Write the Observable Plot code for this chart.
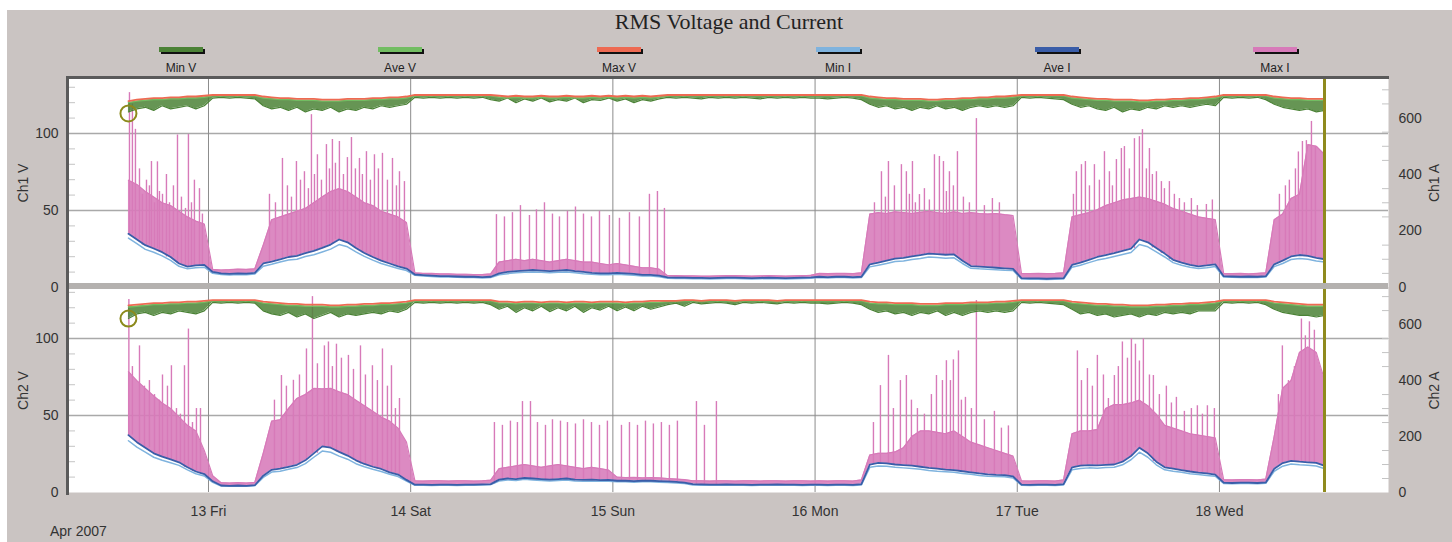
<!DOCTYPE html>
<html><head><meta charset="utf-8">
<script src="https://cdn.jsdelivr.net/npm/d3@7"></script>
<script src="https://cdn.jsdelivr.net/npm/@observablehq/plot@0.6"></script>
<style>
html,body{margin:0;padding:0;background:#fff;width:1452px;height:542px;overflow:hidden;}
#page{position:relative;width:1452px;height:542px;}
#frame{position:absolute;left:7px;top:10px;width:1445px;height:532px;background:#cac4c2;}
#title{position:absolute;left:0;width:1458px;top:9px;text-align:center;font-family:"Liberation Serif","DejaVu Serif",serif;font-size:22px;color:#222;}
.sw{position:absolute;top:47px;width:44px;height:5px;box-shadow:2px 2px 0 #111;}
.lg{position:absolute;top:61px;width:80px;text-align:center;font-family:"Liberation Sans",Arial,sans-serif;font-size:12px;color:#222;}
.panel{position:absolute;left:0;width:1452px;}
.panel svg{position:absolute;left:0;top:0;}
.bar{position:absolute;}
#apr{position:absolute;left:50px;top:523px;font-family:"Liberation Sans",Arial,sans-serif;font-size:14px;color:#333;}
</style></head>
<body><div id="page"><div id="frame"></div><div id="title">RMS Voltage and Current</div></div>
<script>
// ---------- data ----------
const startTime = "2007-04-12T14:30";   // first hourly sample
const cursorTime = "2007-04-18T12:28";  // olive end cursor
const domainX = ["2007-04-12T07:23", "2007-04-18T20:04"];
const dayTicks = ["2007-04-13T00:00","2007-04-14T00:00","2007-04-15T00:00","2007-04-16T00:00","2007-04-17T00:00","2007-04-18T00:00"];
const dayLabels = ["13 Fri","14 Sat","15 Sun","16 Mon","17 Tue","18 Wed"];
const vTicks = [0, 50, 100];
const vGrid = [50, 100];
const vMinor = [10,20,30,40,60,70,80,90,110,120,130];
const aTicks = [0, 200, 400, 600];
const aMinor = [50,100,150,250,300,350,450,500,550,650,700];
const legendNames = ["Min V","Ave V","Max V","Min I","Ave I","Max I"];
const legendColors = ["#4b8236","#72bd62","#ee6a52","#7fb3de","#3a5da8","#d77ab9"];
const markerV = 113;

// Ch1 hourly values
const ch1AveI = [190,170,150,138,125,108,85,74,78,80,
 55,50,48,50,49,52,
 85,92,100,108,112,122,130,140,152,170,160,140,122,108,95,85,75,67,
 46,44,42,40,40,39,38,38,37,38,
 50,55,58,60,62,60,58,60,62,58,55,52,50,50,52,50,48,45,45,42,
 36,35,35,34,34,33,34,35,35,34,33,34,35,34,33,34,35,36,
 38,37,38,38,37,38,
 82,88,95,102,105,110,115,120,118,116,117,95,76,74,72,70,68,66,
 33,32,32,31,32,33,
 80,88,98,108,115,122,130,138,170,160,140,120,98,88,80,75,78,82,
 40,39,38,39,38,40,
 82,95,110,115,112,105,100];
const ch1MinI = [175,155,135,125,112,96,75,66,70,72,
 50,46,44,46,45,48,
 75,82,90,97,100,110,116,126,136,152,144,126,110,97,85,76,67,60,
 43,41,39,37,37,36,35,35,34,35,
 45,49,52,54,55,54,52,54,55,52,49,47,45,45,47,45,43,41,41,38,
 33,32,32,31,31,30,31,32,32,31,30,31,32,31,30,31,32,33,
 35,34,35,35,34,35,
 73,79,85,92,94,99,103,108,106,104,105,85,68,66,65,63,61,60,
 30,29,29,28,29,30,
 72,79,88,97,103,110,117,124,152,144,126,108,88,79,72,67,70,74,
 37,36,35,36,35,37,
 74,85,99,103,100,94,90];
const ch1MaxI = [380,365,340,320,300,290,270,250,235,225,
 64,62,63,65,64,66,
 150,240,250,260,270,280,300,320,340,350,340,320,300,290,270,260,250,230,
 52,50,50,48,48,47,47,46,46,48,
 90,95,100,95,100,95,90,95,100,95,90,90,85,80,85,80,75,70,70,65,
 42,42,41,41,40,40,41,42,42,41,40,41,42,41,40,41,42,43,
 50,49,50,50,49,52,
 260,265,262,268,265,262,266,270,265,262,268,262,265,262,260,262,258,255,
 50,49,50,49,50,52,
 250,258,265,275,290,300,310,315,320,315,305,295,280,270,260,250,245,240,
 50,49,50,48,50,52,
 240,260,315,330,506,500,470];
const ch1MaxV = [121,122,122.5,123,123,123.5,123.5,124,124,124.5,
 125,125,125,125,125,125,
 124,123.5,123,123,122.5,122.5,122.5,122,122,122,122.5,122.5,122.5,123,123,123.5,123.5,124,
 125,125,125,125,125,125,125,125,125,125,
 124.5,124,124.5,124,124,124.5,124,124,124.5,124,124,124.5,124,124.5,124,124.5,124,124.5,124,124.5,
 125,125,125,125,125,125,125,125,125,125,125,125,125,125,125,125,125,125,
 125,125,125,125,125,125,
 124,123.5,123,123,122.5,122.5,122.5,122,122,122.5,122.5,123,123,123.5,123.5,124,124,124.5,
 125,125,125,125,125,125,
 124,123.5,123,122.5,122.5,122,122,122,121.5,121.5,122,122,122.5,122.5,123,123,123.5,124,
 125,125,125,125,125,125,
 124,123.5,123,123,122.5,122.5,122.5];
const ch1AveV = [120,121,121.5,122,122,122.5,122.5,123,123,123.5,
 124.5,124.5,124.5,124.5,124.5,124.5,
 123,122.5,122,122,121.5,121.5,121.5,121,121,121,121.5,121.5,121.5,122,122,122.5,122.5,123,
 124.5,124.5,124.5,124.5,124.5,124.5,124.5,124.5,124.5,124.5,
 123.5,123,123.5,123,123,123.5,123,123,123.5,123,123,123.5,123,123.5,123,123.5,123,123.5,123,123.5,
 124.5,124.5,124.5,124.5,124.5,124.5,124.5,124.5,124.5,124.5,124.5,124.5,124.5,124.5,124.5,124.5,124.5,124.5,
 124.5,124.5,124.5,124.5,124.5,124.5,
 123,122.5,122,122,121.5,121.5,121.5,121,121,121.5,121.5,122,122,122.5,122.5,123,123,123.5,
 124.5,124.5,124.5,124.5,124.5,124.5,
 123,122.5,122,121.5,121.5,121,121,121,120.5,120.5,121,121,121.5,121.5,122,122,122.5,123,
 124.5,124.5,124.5,124.5,124.5,124.5,
 123,122.5,122,122,121.5,121.5,121.5];
const ch1MinV = [114,116,117,115,118,116,117,118,116,118,
 123,123.5,123,123.5,123,122.5,
 118,116,117,115,117,114,116,115,117,114,116,115,117,116,118,117,118,119,
 123.5,123,123.5,123,123.5,123,123.5,123,123.5,122,
 121,123,120,122.5,121,123,120.5,122,121,123,120,122,121.5,123,121,122.5,120,122,121,122.5,
 123.5,123,123.5,123,122.5,123.5,123,123.5,123,123.5,123,122.5,123.5,123,123.5,123,123.5,123,
 123,122.5,123,123.5,123,122,
 119,117,118,116,117,115,117,116,118,116,117,115,117,118,117,118,117,118,
 123.5,123,123.5,123,122.5,122,
 119,117,118,116,115,117,114,116,115,117,116,118,117,118,117,118,119,118,
 123.5,123,123.5,123,123.5,122,
 119,117,116,115,116,114,115];
const ch1SpikeHours = [0.12,0.47,1.31,2.14,2.73,3.44,3.68,4.51,5.82,7.12,7.83,8.43,
 0.83,1.66,2.49,3.09,4.04,4.87,5.34,6.29,6.77,7.48,8.78,
 18.28,19.94,20.89,21.72,22.43,23.5,24.21,25.04,26.47,27.42,28.25,29.2,30.15,31.34,32.17,32.76,
 16.74,17.45,18.87,19.35,20.42,21.36,22.08,22.91,23.86,24.57,25.52,25.99,26.94,27.77,28.72,29.67,30.74,31.81,
 43.68,44.63,45.58,46.53,47.6,48.43,49.38,50.33,51.16,52.11,53.06,54.01,54.96,55.91,57.09,58.28,59.47,60.65,61.84,62.79,63.62,
 89.38,90.21,91.75,92.34,93.06,93.89,95.67,96.26,96.74,97.45,98.4,100.65,102.55,
 88.55,89.85,90.92,92.7,93.41,94.48,95.07,97.09,97.92,99.11,99.82,101.6,103.38,
 112.52,113.12,113.59,114.66,115.85,116.44,117.27,117.86,118.22,119.41,120,120.36,121.19,122.02,122.61,123.56,124.75,126.17,127.95,128.66,
 112.17,114.07,115.25,116.8,118.81,120.83,121.54,122.97,124.15,125.34,126.88,
 137.8,138.52,139.35,140.42,136.62,137.33,138.87,139.82,140.89];
const ch1SpikeAmps = [690,650,420,380,446,445,340,400,540,542,380,350,
 560,330,360,300,330,300,360,320,280,300,260,
 457,446,410,612,470,506,524,517,531,457,481,470,475,457,410,375,
 330,300,360,320,380,350,400,380,420,440,400,460,420,400,380,420,380,360,
 258,250,265,290,255,275,300,260,250,270,285,260,250,270,255,245,265,250,330,340,280,
 410,446,435,410,446,329,470,464,446,410,481,598,315,
 300,320,360,330,300,350,310,340,360,320,300,290,300,
 410,435,446,435,481,410,453,492,499,527,534,559,492,410,375,375,315,315,294,310,
 330,360,380,360,420,420,400,350,330,300,290,
 380,420,517,588,330,360,480,520,500];

// Ch2 hourly values
const ch2AveI = [205,180,160,140,128,118,108,90,75,66,40,
 25,24,25,24,26,
 60,81,85,92,99,115,140,165,160,145,132,115,102,92,84,72,64,45,
 28,28,27,28,28,27,28,28,29,30,
 46,50,48,52,50,48,46,48,50,46,45,46,44,45,
 42,42,41,42,42,41,40,38,35,
 30,29,28,28,29,28,28,27,28,28,29,28,28,27,28,
 28,27,28,28,27,30,
 100,106,104,100,98,96,92,88,85,82,80,76,72,68,65,63,62,58,
 28,27,28,28,27,30,
 90,96,98,97,99,100,110,130,160,140,110,90,85,80,75,71,68,64,
 35,34,35,35,34,36,
 85,105,113,110,108,106,95];
const ch2MinI = [185,162,144,126,115,106,97,81,67,59,36,
 23,22,23,22,24,
 54,73,76,83,89,103,126,148,144,130,119,103,92,83,75,65,57,41,
 26,26,25,26,26,25,26,26,27,28,
 41,45,43,47,45,43,41,43,45,41,40,41,40,40,
 38,38,37,38,38,37,36,34,32,
 27,26,26,26,26,26,26,25,26,26,26,26,26,25,26,
 26,25,26,26,25,27,
 90,95,94,90,88,86,83,79,76,74,72,68,65,61,58,57,56,52,
 26,25,26,26,25,27,
 81,86,88,87,89,90,99,117,144,126,99,81,76,72,67,64,61,58,
 32,31,32,32,31,33,
 76,94,102,99,97,95,85];
const ch2MaxI = [432,400,372,345,320,300,270,240,220,150,60,
 35,34,35,34,36,
 140,255,260,300,336,350,372,370,372,360,350,330,310,290,270,255,230,180,
 42,41,42,42,41,42,42,41,42,44,
 85,90,95,100,95,90,95,100,95,90,85,90,85,80,
 55,53,54,52,53,52,50,48,46,
 42,42,41,42,42,41,42,42,41,42,42,41,42,42,41,
 42,41,42,42,41,45,
 134,140,140,145,160,200,220,220,215,210,220,200,180,170,160,150,140,130,
 42,41,42,42,41,45,
 210,220,220,225,300,314,314,320,330,310,280,240,230,220,210,205,200,195,
 46,45,46,46,45,48,
 200,372,400,500,520,500,400];
const ch2MaxV = [121.5,122,122.5,123,123,123.5,123.5,124,124,124.5,
 125,125,125,125,125,125,
 124,123.5,123,122.5,122.5,122,122,122,121.5,121.5,122,122,122.5,122.5,123,123,123.5,124,
 125,125,125,125,125,125,125,125,125,125,
 124,124,123.5,124,124,123.5,124,124,123.5,124,124,123.5,124,124,124,123.5,124,124,124.5,124.5,
 124.5,124.5,125,125,124.5,125,125,125,124.5,125,125,125,125,124.5,125,125,125,125,
 125,125,125,125,125,125,
 124,123.5,123.5,123,123,123,122.5,122.5,122.5,123,123,123,123.5,123.5,123.5,124,124,124.5,
 125,125,125,125,125,125,
 124,123.5,123,122.5,122.5,122,122,121.5,121.5,121.5,122,122,122.5,122.5,123,123,123.5,124,
 125,125,125,125,125,125,
 124,123.5,123,122.5,122,122,122];
const ch2AveV = [120.5,121,121.5,122,122,122.5,122.5,123,123,123.5,
 124.5,124.5,124.5,124.5,124.5,124.5,
 123,122.5,122,121.5,121.5,121,121,121,120.5,120.5,121,121,121.5,121.5,122,122,122.5,123,
 124.5,124.5,124.5,124.5,124.5,124.5,124.5,124.5,124.5,124.5,
 123,123,122.5,123,123,122.5,123,123,122.5,123,123,122.5,123,123,123,122.5,123,123,123.5,123.5,
 124,124,124.5,124.5,124,124.5,124.5,124.5,124,124.5,124.5,124.5,124.5,124,124.5,124.5,124.5,124.5,
 124.5,124.5,124.5,124.5,124.5,124.5,
 123,122.5,122.5,122,122,122,121.5,121.5,121.5,122,122,122,122.5,122.5,122.5,123,123,123.5,
 124.5,124.5,124.5,124.5,124.5,124.5,
 123,122.5,122,121.5,121.5,121,121,120.5,120.5,120.5,121,121,121.5,121.5,122,122,122.5,123,
 124.5,124.5,124.5,124.5,124.5,124.5,
 123,122.5,122,121.5,121,121,121];
const ch2MinV = [113,116,117,115,117,116,118,117,116,118,
 123.5,123,123.5,123,123.5,123,
 118,116,115,117,114,116,113,115,117,114,116,115,116,117,116,118,117,119,
 123.5,123,123.5,123,123.5,123,123.5,123,123.5,122,
 119,121,117,120,118,121,117.5,120,118,121,117,120,118.5,121,118,120.5,118,121,119,120.5,
 122,123,121,123.5,122.5,123,123.5,123,122,123.5,123,123.5,123,122.5,123.5,123,123.5,123,
 123,122.5,123,123.5,123,122,
 119,117,118,116,117,115,117,116,118,115,117,115,117,118,117,118,117,118,
 123.5,123,123.5,123,122.5,122,
 119,116,117,115,116,114,115,116,114,116,115,117,116,117,116,118,118,118,
 123.5,123,123.5,123,123.5,122,
 119,117,116,115,115,114,115];
const ch2SpikeHours = [0.05,1.31,2.49,4.04,5.1,6.65,7.12,8.07,8.55,
 0.47,1.9,3.09,3.68,4.63,5.7,6.17,7.6,
 18.16,19.58,21.13,21.84,23.26,23.74,24.69,26.11,27.54,28.96,30.15,31.22,32.17,
 17.33,18.75,20.3,22.43,24.21,25.28,26.71,28.13,29.55,30.74,31.69,
 43.44,44.39,45.34,46.17,46.77,47.72,48.55,49.5,50.33,51.28,52.11,53.06,54.01,54.96,55.91,56.85,58.52,59.47,60.42,61.37,62.31,63.26,64.21,65.16,67.42,68.37,69.79,
 89.26,90.21,91.63,92.34,93.65,95.91,96.62,97.09,97.57,97.92,98.52,99.35,100.65,102.79,104.45,
 88.43,90.8,92.94,94.48,95.31,98.87,100.06,101.6,103.62,
 112.64,113.83,115.01,116.32,117.03,117.98,119.05,119.53,120.47,121.66,123.2,124.39,126.17,126.88,128.07,128.9,
 113.12,114.42,115.73,117.5,118.58,120,121.19,122.37,123.8,125.34,127.48,
 136.97,137.69,139.23,140.18,136.5,138.4,139.7,140.77];
const ch2SpikeAmps = [690,524,400,420,453,453,584,300,300,
 450,380,350,330,380,300,280,250,
 418,401,513,700,524,538,530,490,524,453,513,453,336,
 330,380,420,460,450,480,440,420,400,380,300,
 250,240,255,250,325,325,250,240,260,255,250,245,260,250,240,255,240,250,240,255,245,250,240,255,325,240,325,
 382,490,400,418,300,418,400,471,400,474,506,340,686,290,238,
 250,300,330,280,350,330,300,260,230,
 506,443,490,336,418,538,549,530,549,418,380,340,300,310,310,300,
 400,380,420,450,480,470,420,350,320,290,280,
 524,400,620,610,350,450,560,580];

// ---------- drawing ----------
const page = document.getElementById("page");
const T0 = new Date(startTime);
const font = '"Liberation Sans", Arial, sans-serif';
const xDomain = domainX.map(s => new Date(s));
const days = dayTicks.map(s => new Date(s));
const [cMinV, cAveV, cMaxV, cMinI, cAveI, cMaxI] = legendColors;

// legend
const legendCenters = [181, 400, 619, 838, 1057, 1275];
legendNames.forEach((n, i) => {
  const sw = document.createElement("div");
  sw.className = "sw"; sw.style.left = (legendCenters[i] - 22) + "px"; sw.style.background = legendColors[i];
  page.appendChild(sw);
  const lb = document.createElement("div");
  lb.className = "lg"; lb.style.left = (legendCenters[i] - 40) + "px"; lb.textContent = n;
  page.appendChild(lb);
});

function panel(cfg) {
  const rows = cfg.aveI.map((a, i) => ({
    t: d3.timeHour.offset(T0, i), aveI: a, minI: cfg.minI[i], maxI: cfg.maxI[i],
    minV: cfg.minV[i], aveV: cfg.aveV[i], maxV: cfg.maxV[i]
  }));
  const spikes = cfg.spikeHours.map((h, i) => ({
    t: new Date(+T0 + h * 3600e3), a: cfg.spikeAmps[i],
    base: cfg.aveI[Math.min(cfg.aveI.length - 1, Math.round(h))]
  }));
  const common = {
    width: 1452, height: cfg.height,
    marginLeft: 68, marginRight: 64, marginTop: 8, marginBottom: cfg.mb,
    x: {type: "time", domain: xDomain, axis: null},
    style: {background: "transparent", fontFamily: font, fontSize: "14px", color: "#333", overflow: "visible"}
  };
  const div = document.createElement("div");
  div.className = "panel"; div.style.top = cfg.top + "px"; div.style.height = cfg.height + "px";
  // layer 1: background, grid, left axis, x axis
  const bgMarks = [
    Plot.frame({fill: "white", stroke: null}),
    Plot.ruleY(vGrid, {stroke: "#a9a9a9", strokeWidth: 1.5}),
    Plot.ruleX(days, {stroke: "#8c8c8c", strokeWidth: 1}),
    Plot.axisY(vMinor, {anchor: "left", tickSize: -7, tickFormat: () => "", stroke: "#c4c4c4"}),
    Plot.axisY(vTicks, {anchor: "left", tickSize: 0, tickPadding: 10, label: cfg.vLabel, labelAnchor: "center", labelOffset: 50, labelArrow: "none"})
  ];
  if (cfg.xAxis) bgMarks.push(Plot.axisX(days, {tickSize: 0, tickPadding: 14, tickFormat: (d, i) => dayLabels[i], label: null}));
  div.appendChild(Plot.plot({...common, y: {domain: [0, cfg.vMax], axis: null}, marks: bgMarks}));
  // layer 2: currents
  div.appendChild(Plot.plot({...common, y: {domain: [0, cfg.aMax], axis: null}, marks: [
    Plot.areaY(rows, {x: "t", y1: "aveI", y2: "maxI", fill: cMaxI, fillOpacity: 0.88}),
    Plot.lineY(rows, {x: "t", y: "maxI", stroke: cMaxI, strokeWidth: 1.2}),
    Plot.ruleX(spikes, {x: "t", y1: "base", y2: "a", stroke: cMaxI, strokeWidth: 1.4}),
    Plot.lineY(rows, {x: "t", y: "minI", stroke: cMinI, strokeWidth: 1.5}),
    Plot.lineY(rows, {x: "t", y: "aveI", stroke: cAveI, strokeWidth: 1.8}),
    Plot.axisY(aMinor, {anchor: "right", tickSize: -7, tickFormat: () => "", stroke: "#c4c4c4"}),
    Plot.axisY(aTicks, {anchor: "right", tickSize: 0, tickPadding: 10, label: cfg.aLabel, labelAnchor: "center", labelOffset: 50, labelArrow: "none"})
  ]}));
  // layer 3: voltages, marker, cursor
  div.appendChild(Plot.plot({...common, y: {domain: [0, cfg.vMax], axis: null}, marks: [
    Plot.areaY(rows, {x: "t", y1: "minV", y2: "aveV", fill: cMinV, fillOpacity: 0.85}),
    Plot.lineY(rows, {x: "t", y: "minV", stroke: cMinV, strokeWidth: 1.2}),
    Plot.lineY(rows, {x: "t", y: "aveV", stroke: cAveV, strokeWidth: 1.4}),
    Plot.lineY(rows, {x: "t", y: "maxV", stroke: cMaxV, strokeWidth: 1.8}),
    Plot.dot([{t: T0, v: markerV}], {x: "t", y: "v", r: 8, stroke: "#8c8a1c", strokeWidth: 2, fill: "none"}),
    Plot.ruleX([new Date(cursorTime)], {stroke: "#8f8a1e", strokeWidth: 3})
  ]}));
  page.appendChild(div);
}

panel({top: 70, height: 227, mb: 10, vMax: 135.7, aMax: 740, vLabel: "Ch1 V", aLabel: "Ch1 A",
  aveI: ch1AveI, minI: ch1MinI, maxI: ch1MaxI, minV: ch1MinV, aveV: ch1AveV, maxV: ch1MaxV,
  spikeHours: ch1SpikeHours, spikeAmps: ch1SpikeAmps, xAxis: false});
panel({top: 280, height: 262, mb: 50, vMax: 132.5, aMax: 729, vLabel: "Ch2 V", aLabel: "Ch2 A",
  aveI: ch2AveI, minI: ch2MinI, maxI: ch2MaxI, minV: ch2MinV, aveV: ch2AveV, maxV: ch2MaxV,
  spikeHours: ch2SpikeHours, spikeAmps: ch2SpikeAmps, xAxis: true});

// frame decorations (separator band and dark plot border)
function bar(l, t, w, h, c) {
  const b = document.createElement("div"); b.className = "bar";
  Object.assign(b.style, {left: l + "px", top: t + "px", width: w + "px", height: h + "px", background: c});
  page.appendChild(b);
}
bar(68, 283, 1320, 6, "#b4b1af");
bar(66, 76, 1323, 3, "#5a5a5a");
bar(66, 76, 3, 419, "#5a5a5a");
const apr = document.createElement("div"); apr.id = "apr"; apr.textContent = "Apr 2007"; page.appendChild(apr);
</script></body></html>
